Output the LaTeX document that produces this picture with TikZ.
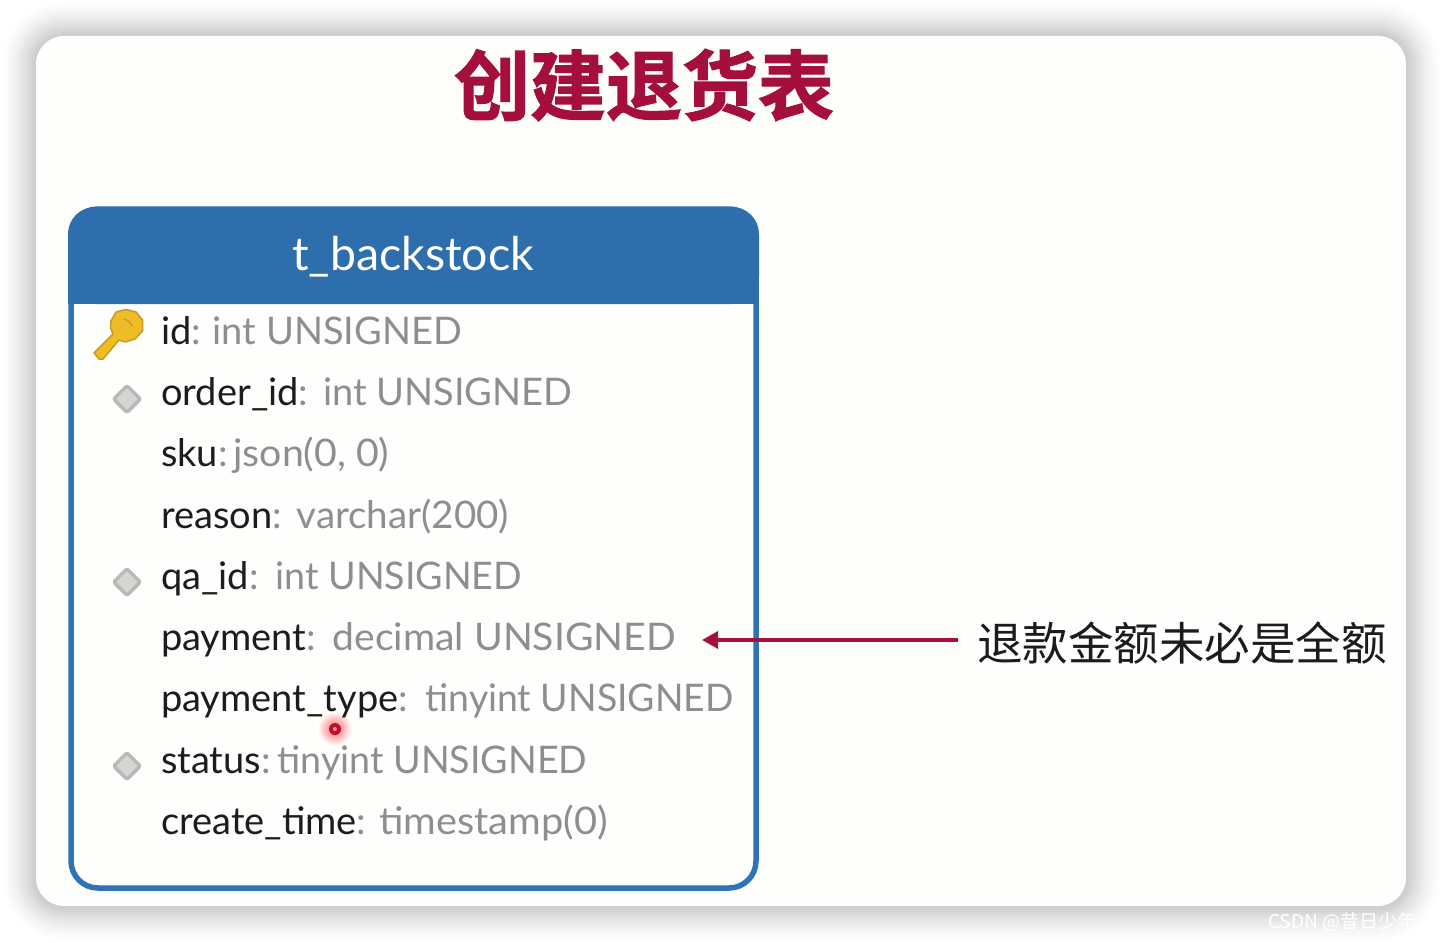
\documentclass[tikz,border=0pt]{standalone}
\usepackage{fontspec}
\setmainfont{Lato}
\newfontfamily\cjk{Noto Sans CJK SC}
\newfontfamily\cjktitle[FakeBold=1.6]{Noto Sans CJK SC Bold}
\usetikzlibrary{arrows.meta,shapes.geometric}
\definecolor{hdr}{HTML}{2F6EAC}
\definecolor{edge}{HTML}{2E72B8}
\definecolor{crim}{HTML}{A50F3E}
\definecolor{typ}{HTML}{8E8E8E}
\definecolor{nam}{HTML}{1C1C1C}
\definecolor{paper}{HTML}{FEFEFD}
\definecolor{gold}{HTML}{EDBC26}
\definecolor{golddk}{HTML}{C99A22}
\definecolor{fkfill}{HTML}{D4D6D2}
\definecolor{fkline}{HTML}{B8B8B8}
\tikzset{
  rowtext/.style={anchor=base west,inner sep=0pt,font=\fontsize{38}{40}\selectfont,text=nam},
  fk/.style={diamond,draw=fkline,fill=fkfill,line width=3.5pt,minimum width=28pt,minimum height=28pt,inner sep=0pt,rounded corners=2pt},
}
% #1 shift before the type text, #2 horizontal scale of it, #3 the text
\newcommand{\ty}[3]{\textcolor{typ}{:\ \hspace{#1pt}\scalebox{#2}[1]{#3}}}
\begin{document}
\begin{tikzpicture}[x=1pt,y=-1pt]
\useasboundingbox (0,0) rectangle (1442,942);
\fill[white] (0,0) rectangle (1442,942);
% soft shadow
\foreach \i in {36,35,...,1}{
  \pgfmathsetmacro\lev{21*(1-\i/36)^1.5}
  \fill[black!\lev!white,rounded corners={\i pt+28pt}] (36-\i,36-\i) rectangle (1406+\i,906+\i);
}
\fill[paper,rounded corners=28pt] (36,36) rectangle (1406,906);
% title
\node[inner sep=0pt,text=crim,font=\cjktitle\fontsize{76}{80}\selectfont] (title) at (644,85) {创建退货表};
% table
\fill[paper,rounded corners=28pt] (71,209) rectangle (756,888);
\draw[edge,line width=5.5pt,rounded corners=27pt] (71,209) rectangle (756,888);
\fill[hdr,rounded corners=27pt] (68,207) -- (68,304) -- (759,304) -- (759,207) -- cycle;
\fill[hdr] (68,260) rectangle (759,304);
\node[inner sep=0pt,text=white,font=\fontsize{46.5}{48}\selectfont] (head) at (413,257) {t\_backstock};
% rows
\node[rowtext] (r1) at (161,344) {id\ty{2}{1}{int UNSIGNED}};
\node[rowtext] (r2) at (161,405) {order\_id\ty{5}{1}{int UNSIGNED}};
\node[rowtext] (r3) at (161,466) {sku\ty{-4}{1.033}{json(0, 0)}};
\node[rowtext] (r4) at (161,528) {reason\ty{5}{1.014}{varchar(200)}};
\node[rowtext] (r5) at (161,589) {qa\_id\ty{7}{0.99}{int UNSIGNED}};
\node[rowtext] (r6) at (161,650) {payment\ty{7}{1.03}{decimal UNSIGNED}};
\node[rowtext] (r7) at (161,711) {payment\_type\ty{8}{0.984}{tinyint UNSIGNED}};
\node[rowtext] (r8) at (161,773) {status\ty{-3}{0.99}{tinyint UNSIGNED}};
\node[rowtext] (r9) at (161,834) {create\_time\ty{3}{1.046}{timestamp(0)}};
% key
\draw[line width=1.5pt,draw=golddk,fill=gold,line join=round]
  (111,321) -- (116,312) -- (126,309.5) -- (136,312) -- (142.5,320) -- (142.5,331) -- (135,339) -- (125,342) -- (119,340)
  -- (103,359) -- (99,359) -- (94,353) -- (113,334) -- (110.5,328) -- cycle;
\draw[golddk,line width=1.5pt,line cap=round] (124,319) .. controls (128,320) and (131,323) .. (132,326);
% fk markers
\node[fk] (d1) at (127,399) {};
\node[fk] (d2) at (127,582) {};
\node[fk] (d3) at (127,766) {};
% note
\node[anchor=west,inner sep=0pt,text=nam,font=\cjk\fontsize{45.5}{48}\selectfont,outer xsep=19pt] (note) at (958,643) {退款金额未必是全额};
\coordinate (tip) at (702,640);
\draw[crim,line width=3.5pt,-{Triangle[length=16pt,width=17pt]}] (note.west |- tip) -- (tip);
% pointer
\foreach \r in {16,14.5,...,7}{\fill[red,opacity=0.06] (335,729) circle (\r);}
\fill[crim!60!red] (335,729) circle (6);
\fill[red!35!white] (335,729) circle (2);
% watermark
\node[anchor=west,inner sep=0pt,text=white,font=\cjk\fontsize{19}{20}\selectfont] (wm) at (1268,922) {CSDN @昔日少年};
\end{tikzpicture}
\end{document}
